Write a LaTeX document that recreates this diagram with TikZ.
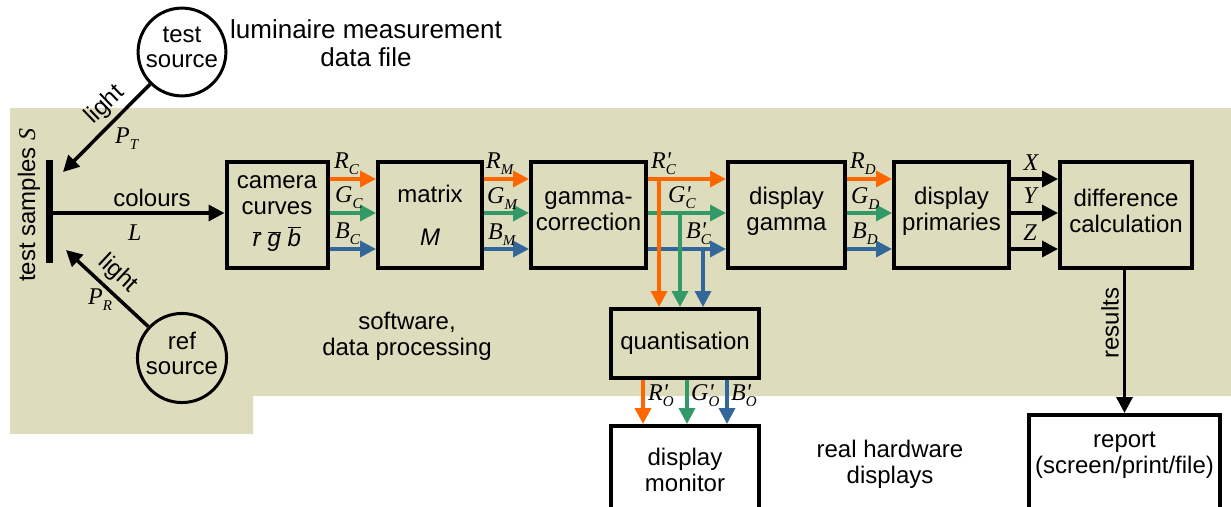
\documentclass[tikz,border=0pt]{standalone}
\usepackage{fontspec}
\setmainfont{Liberation Sans}
\newfontfamily\timesfont{Liberation Serif}
\usetikzlibrary{arrows.meta,positioning}
\definecolor{bgbeige}{RGB}{221,221,190}
\definecolor{rcol}{RGB}{255,102,0}
\definecolor{gcol}{RGB}{51,153,102}
\definecolor{bcol}{RGB}{51,102,153}
\tikzset{arrow/.style={-{Triangle[length=16pt,width=16pt]}, line width=3.5pt}}
\tikzset{rarr/.style={arrow, color=rcol}, garr/.style={arrow, color=gcol}, barr/.style={arrow, color=bcol}}
\tikzset{txt/.style={font=\fontsize{24}{26}\selectfont, align=center, inner sep=0pt}}
\tikzset{block/.style={draw, line width=4pt, txt}}
\tikzset{source/.style={circle, draw, line width=3pt, minimum size=84pt, txt, font=\fontsize{24}{25}\selectfont, text depth=10pt}}
\tikzset{sig/.style={font=\fontsize{24}{26}\selectfont\timesfont\itshape, inner sep=0pt, anchor=west}}
\newcommand{\chan}[3]{#1\rlap{\raisebox{-0.55ex}{\fontsize{15}{15}\selectfont #2}}#3}
\newcommand{\ovl}[1]{\(\overline{\mbox{\itshape #1}}\)}

\begin{document}
\begin{tikzpicture}[x=1pt, y=-1pt]
    \useasboundingbox (0,0) rectangle (1231,506);
    \fill[bgbeige] (10,108) -- (1231,108) -- (1231,396) -- (253,396) -- (253,434) -- (10,434) -- cycle;
    \coordinate (rowR) at (0,179);
    \coordinate (rowG) at (0,213);
    \coordinate (rowB) at (0,249);
    \coordinate (rowL) at (0,213);

    \node[source] (tsrc) at (182,52) {test\\source};
    \node[source] (rsrc) at (182,358) {ref\\source};
    \node[txt, font=\fontsize{26}{28}\selectfont] (lum) at (366,43) {luminaire measurement\\data file};
    \node[fill=black, minimum width=7pt, minimum height=103pt, inner sep=0pt] (samp) at (49,211) {};
    \node[txt, rotate=90] (samplbl) at (29,205) {test samples {\timesfont\itshape S}};
    \coordinate (tipT) at (63,172);
    \coordinate (tipR) at (66,250);
    \draw[arrow] (tsrc) -- (tipT);
    \draw[arrow] (rsrc) -- (tipR);
    \node[txt, rotate=44] (lightT) at (105,105) {light};
    \node[sig] (PT) at (115,139) {\chan{P}{T}{}};
    \node[txt, rotate=-43] (lightR) at (118,274) {light};
    \node[sig] (PR) at (88,300) {\chan{P}{R}{}};

    \node[block, minimum width=101pt, minimum height=106pt, text depth=8pt] (cam) at (277,215) {camera\\curves\\[6pt]\ovl{r}\ \ovl{g}\ \ovl{b}};
    \node[block, minimum width=104pt, minimum height=106pt] (mat) at (430,215) {matrix\\[17pt]\textit{M}};
    \node[block, minimum width=115pt, minimum height=106pt, text depth=8pt] (gam) at (588.5,215) {gamma-\\correction};
    \node[block, minimum width=117pt, minimum height=106pt, text depth=13pt] (dgam) at (786.5,215) {display\\gamma};
    \node[block, minimum width=115pt, minimum height=106pt, text depth=13pt] (dprim) at (951.5,215) {display\\primaries};
    \node[block, minimum width=132pt, minimum height=106pt, text depth=8pt] (diff) at (1126,215) {difference\\calculation};
    \node[block, minimum width=148pt, minimum height=69pt] (quant) at (685,343.5) {quantisation};
    \node[block, fill=white, minimum width=148pt, minimum height=130pt] (mon) at (685,491) {};
    \node[txt] (monlbl) at (685,470) {display\\monitor};
    \node[block, fill=white, minimum width=191pt, minimum height=140pt] (rep) at (1124.5,485) {};
    \node[txt] (replbl) at (1124.5,455) {report\\(screen/print/file)};

    \draw[arrow] (samp.east |- rowL) -- (cam.west |- rowL);
    \node[txt] (colours) at (152,198) {colours};
    \node[sig] (L) at (128,233) {L};

    \draw[rarr] (cam.east |- rowR) -- (mat.west |- rowR);
    \draw[garr] (cam.east |- rowG) -- (mat.west |- rowG);
    \draw[barr] (cam.east |- rowB) -- (mat.west |- rowB);
    \node[sig] (RC) at (334,164) {\chan{R}{C}{}};
    \node[sig] (GC) at (335,198) {\chan{G}{C}{}};
    \node[sig] (BC) at (335,234) {\chan{B}{C}{}};

    \draw[rarr] (mat.east |- rowR) -- (gam.west |- rowR);
    \draw[garr] (mat.east |- rowG) -- (gam.west |- rowG);
    \draw[barr] (mat.east |- rowB) -- (gam.west |- rowB);
    \node[sig] (RM) at (486,164) {\chan{R}{M}{}};
    \node[sig] (GM) at (487,199) {\chan{G}{M}{}};
    \node[sig] (BM) at (488,235) {\chan{B}{M}{}};

    \draw[rarr] (gam.east |- rowR) -- (dgam.west |- rowR);
    \draw[garr] (gam.east |- rowG) -- (dgam.west |- rowG);
    \draw[barr] (gam.east |- rowB) -- (dgam.west |- rowB);
    \node[sig] (RCp) at (651,164) {\chan{R}{C}{'}};
    \node[sig] (GCp) at (668,198) {\chan{G}{C}{'}};
    \node[sig] (BCp) at (686,234) {\chan{B}{C}{'}};
    \coordinate (brR) at (659,179);
    \coordinate (brG) at (680,213);
    \coordinate (brB) at (703,249);
    \draw[rarr] (brR) -- (brR |- quant.north);
    \draw[garr] (brG) -- (brG |- quant.north);
    \draw[barr] (brB) -- (brB |- quant.north);

    \coordinate (outR) at (643,0);
    \coordinate (outG) at (687,0);
    \coordinate (outB) at (727,0);
    \draw[rarr] (quant.south -| outR) -- (mon.north -| outR);
    \draw[garr] (quant.south -| outG) -- (mon.north -| outG);
    \draw[barr] (quant.south -| outB) -- (mon.north -| outB);
    \node[sig] (RO) at (648,396) {\chan{R}{O}{'}};
    \node[sig] (GO) at (691,396) {\chan{G}{O}{'}};
    \node[sig] (BO) at (731,396) {\chan{B}{O}{'}};

    \draw[rarr] (dgam.east |- rowR) -- (dprim.west |- rowR);
    \draw[garr] (dgam.east |- rowG) -- (dprim.west |- rowG);
    \draw[barr] (dgam.east |- rowB) -- (dprim.west |- rowB);
    \node[sig] (RD) at (850,164) {\chan{R}{D}{}};
    \node[sig] (GD) at (851,199) {\chan{G}{D}{}};
    \node[sig] (BD) at (852,234) {\chan{B}{D}{}};

    \draw[arrow] (dprim.east |- rowR) -- (diff.west |- rowR);
    \draw[arrow] (dprim.east |- rowG) -- (diff.west |- rowG);
    \draw[arrow] (dprim.east |- rowB) -- (diff.west |- rowB);
    \node[sig, anchor=center] (X) at (1031,163) {X};
    \node[sig, anchor=center] (Y) at (1030,196) {Y};
    \node[sig, anchor=center] (Z) at (1030,233) {Z};

    \draw[arrow] (diff.south -| rep.north) -- (rep.north);
    \node[txt, rotate=90] (results) at (1110,323) {results};

    \node[txt] (soft) at (407,336) {software,\\data processing};
    \node[txt] (hw) at (890,464) {real hardware\\displays};
  \end{tikzpicture}
\end{document}
